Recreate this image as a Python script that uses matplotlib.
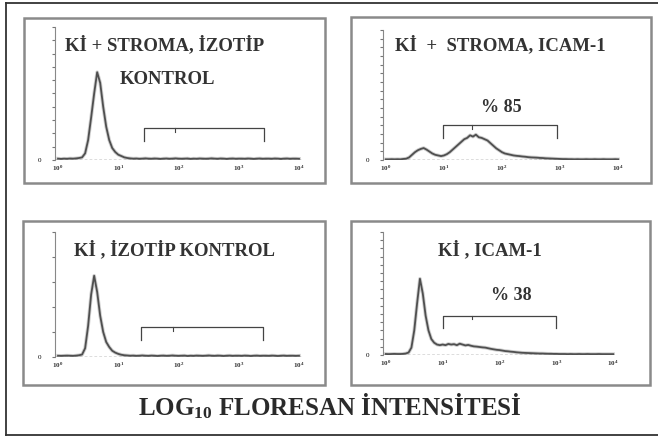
import numpy as np
import matplotlib
matplotlib.use("Agg")
import matplotlib.pyplot as plt
from matplotlib.patches import Rectangle
from matplotlib.lines import Line2D

plt.rcParams["font.family"] = ["Liberation Serif", "DejaVu Serif"]
plt.rcParams["mathtext.fontset"] = "custom"
plt.rcParams["mathtext.rm"] = "Liberation Serif:bold"
plt.rcParams["mathtext.it"] = "Liberation Serif:bold"
plt.rcParams["mathtext.bf"] = "Liberation Serif:bold"

# log10 channel positions (0.05 steps, 10^0 .. 10^4)
log_bins = np.arange(81) * 0.05

# relative event counts
stroma_izotip = [0.010, 0.008, 0.010, 0.009, 0.011, 0.010, 0.012, 0.015, 0.020, 0.050,
                 0.150, 0.320, 0.500, 0.660, 0.580, 0.400, 0.250, 0.150, 0.090, 0.060,
                 0.040, 0.030, 0.020, 0.015, 0.012, 0.010, 0.011, 0.009, 0.010, 0.012,
                 0.010, 0.009, 0.011, 0.010, 0.008, 0.010, 0.011, 0.009, 0.010, 0.012,
                 0.010, 0.009, 0.010, 0.011, 0.008, 0.010, 0.009, 0.011, 0.010, 0.009,
                 0.010, 0.012, 0.010, 0.009, 0.011, 0.010, 0.008, 0.010, 0.011, 0.009,
                 0.010, 0.010, 0.009, 0.011, 0.010, 0.008, 0.010, 0.011, 0.009, 0.010,
                 0.010, 0.009, 0.011, 0.010, 0.008, 0.010, 0.011, 0.009, 0.010, 0.010,
                 0.009]
stroma_icam = [0.005, 0.005, 0.006, 0.005, 0.006, 0.005, 0.008, 0.010, 0.020, 0.040,
               0.060, 0.075, 0.085, 0.092, 0.080, 0.065, 0.050, 0.040, 0.035, 0.030,
               0.035, 0.045, 0.060, 0.080, 0.100, 0.120, 0.140, 0.160, 0.170, 0.190,
               0.180, 0.195, 0.175, 0.170, 0.160, 0.150, 0.130, 0.110, 0.090, 0.075,
               0.060, 0.050, 0.045, 0.040, 0.035, 0.032, 0.030, 0.027, 0.025, 0.022,
               0.020, 0.019, 0.018, 0.016, 0.015, 0.013, 0.012, 0.011, 0.010, 0.009,
               0.008, 0.007, 0.007, 0.006, 0.006, 0.005, 0.006, 0.005, 0.005, 0.006,
               0.005, 0.005, 0.006, 0.005, 0.005, 0.006, 0.005, 0.005, 0.005, 0.006,
               0.005]
ki_izotip = [0.010, 0.009, 0.010, 0.011, 0.010, 0.009, 0.011, 0.014, 0.020, 0.070,
             0.250, 0.500, 0.650, 0.520, 0.330, 0.200, 0.120, 0.080, 0.050, 0.035,
             0.025, 0.018, 0.014, 0.012, 0.010, 0.011, 0.009, 0.010, 0.012, 0.010,
             0.009, 0.011, 0.010, 0.008, 0.010, 0.011, 0.009, 0.010, 0.012, 0.010,
             0.009, 0.010, 0.011, 0.008, 0.010, 0.009, 0.011, 0.010, 0.009, 0.010,
             0.012, 0.010, 0.009, 0.011, 0.010, 0.008, 0.010, 0.011, 0.009, 0.010,
             0.010, 0.009, 0.011, 0.010, 0.008, 0.010, 0.011, 0.009, 0.010, 0.010,
             0.009, 0.011, 0.010, 0.008, 0.010, 0.011, 0.009, 0.010, 0.010, 0.009,
             0.010]
ki_icam = [0.008, 0.007, 0.008, 0.009, 0.008, 0.008, 0.009, 0.012, 0.020, 0.060,
           0.200, 0.420, 0.620, 0.500, 0.320, 0.200, 0.130, 0.100, 0.085, 0.080,
           0.085, 0.080, 0.090, 0.085, 0.088, 0.080, 0.092, 0.085, 0.078, 0.082,
           0.075, 0.070, 0.068, 0.065, 0.062, 0.060, 0.055, 0.050, 0.046, 0.042,
           0.040, 0.036, 0.032, 0.030, 0.027, 0.025, 0.022, 0.020, 0.018, 0.017,
           0.016, 0.015, 0.014, 0.013, 0.012, 0.012, 0.011, 0.010, 0.010, 0.009,
           0.009, 0.008, 0.008, 0.008, 0.007, 0.008, 0.007, 0.007, 0.008, 0.007,
           0.007, 0.008, 0.007, 0.007, 0.007, 0.008, 0.007, 0.007, 0.007, 0.007,
           0.007]

titles = [["Kİ + STROMA, İZOTİP", "KONTROL"], ["Kİ  +  STROMA, ICAM-1"],
          ["Kİ , İZOTİP KONTROL"], ["Kİ , ICAM-1"]]
percent_labels = [None, "% 85", None, "% 38"]
series = [stroma_izotip, stroma_icam, ki_izotip, ki_icam]
# gate (bracket) limits in log10 units
gate_lo = [1.43, 0.98, 1.38, 1.0]
gate_hi = [3.42, 2.94, 3.40, 3.0]
gate_y = [0.24, 0.27, 0.24, 0.32]
decade_labels = ["$10^{0}$", "$10^{1}$", "$10^{2}$", "$10^{3}$", "$10^{4}$"]

W, H = 658, 437
fig = plt.figure(figsize=(W / 100, H / 100), dpi=100)


def fx(px):
    return px / W


def fy(py):
    return 1 - py / H


# outer frame (left, top, bottom)
for xs, ys in [([6, 6], [3, 435]), ([6, W], [3, 3]), ([6, W], [435, 435])]:
    fig.add_artist(Line2D([fx(v) for v in xs], [fy(v) for v in ys],
                          color="#333333", lw=1.3))

# panel boxes (pixel coordinates: left, top, right, bottom)
boxes = [(24, 18, 325, 183), (351, 17, 651, 183), (23, 221, 325, 385), (351, 221, 650, 385)]
# axis areas: left, right, top, baseline
areas = [(55, 302, 27, 160), (383, 621, 30, 160), (55, 302, 232, 357), (383, 616, 232, 355)]
title_pos = [[(165, 45), (167, 80)], [(500, 45)], [(174, 250)], [(490, 250)]]
pct_pos = [None, (501, 107), None, (511, 295)]
n_minor = [11, 16, 6, 16]

for k in range(4):
    l, t, r, b = boxes[k]
    fig.add_artist(Rectangle((fx(l), fy(b)), fx(r - l), (b - t) / H, fill=False,
                             ec="#8a8a8a", lw=1.8))
    al, ar, at, ab = areas[k]
    ax = fig.add_axes([fx(al), fy(ab), fx(ar - al), (ab - at) / H])
    ax.set_facecolor("none")
    ax.plot(log_bins, series[k], color="#3a3a3a", lw=1.3)
    ax.plot(log_bins, series[k], color="#777777", lw=2.6, alpha=0.35)
    ax.axhline(0, color="#555555", lw=1.0, ls=(0, (2, 1.5)))
    ax.set_xlim(-0.05, 4.05)
    ax.set_ylim(0, 1)
    for s in ["top", "right", "bottom"]:
        ax.spines[s].set_visible(False)
    ax.spines["left"].set_color("#888888")
    ax.spines["left"].set_linewidth(0.8)
    ax.spines["left"].set_bounds(0, 1)
    ax.set_yticks(np.linspace(0, 1, n_minor[k]))
    ax.set_yticklabels(["0"] + [""] * (n_minor[k] - 1))
    ax.tick_params(axis="y", length=2, width=0.8, color="#777777", labelsize=5, pad=8)
    ax.set_xticks(range(5))
    ax.set_xticklabels(decade_labels)
    ax.tick_params(axis="x", length=0, labelsize=5, pad=3, labelcolor="#333333")

    # gate bracket
    lo, hi, gy = gate_lo[k], gate_hi[k], gate_y[k]
    ax.plot([lo, lo, hi, hi], [gy - 0.1, gy, gy, gy - 0.1], color="#444444", lw=0.9)
    mid = lo + (hi - lo) * 0.26
    ax.plot([mid, mid], [gy, gy - 0.03], color="#444444", lw=0.8)

    for line, (px, py) in zip(titles[k], title_pos[k]):
        fig.text(fx(px), fy(py), line, ha="center", va="center", fontsize=13.5,
                 fontweight="bold", color="#333333")
    if percent_labels[k]:
        px, py = pct_pos[k]
        fig.text(fx(px), fy(py), percent_labels[k], ha="center", va="center",
                 fontsize=13, fontweight="bold", color="#333333")

fig.text(fx(330), fy(406), r"LOG$_{10}$ FLORESAN İNTENSİTESİ", ha="center", va="center",
         fontsize=18, fontweight="bold", color="#2a2a2a")

fig.savefig("out.png", dpi=100)
